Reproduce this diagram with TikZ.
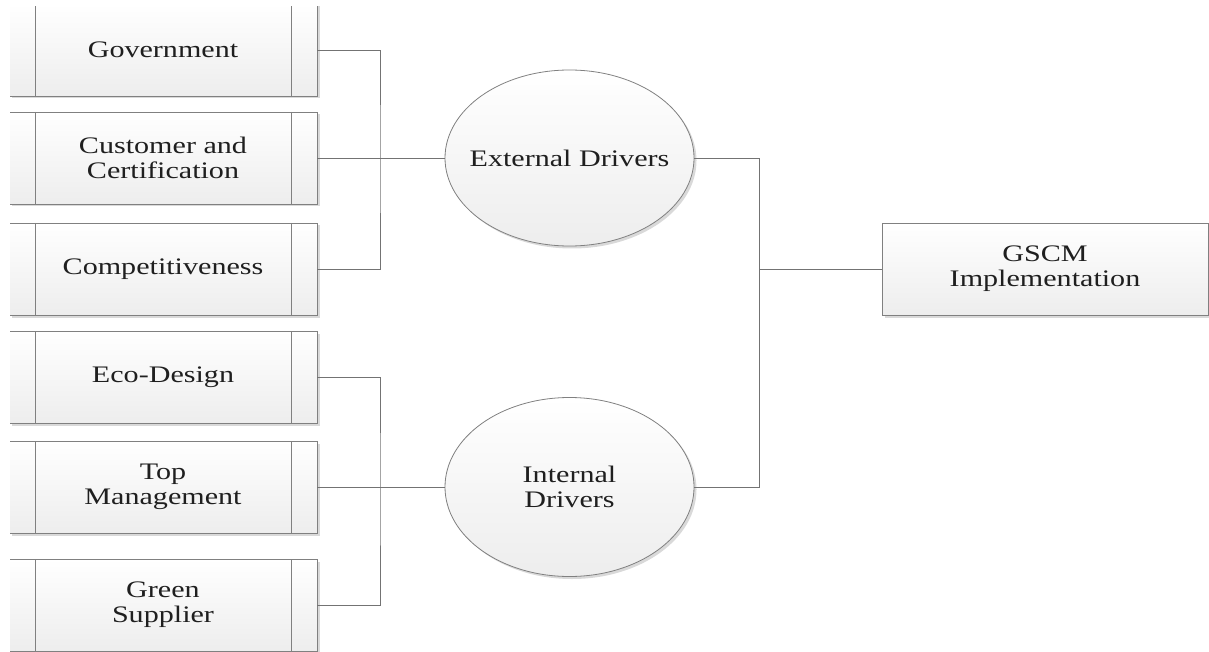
\documentclass[tikz,border=0pt]{standalone}
\usepackage{fontspec}
\setmainfont{Liberation Serif}[FakeStretch=1.27]
\usetikzlibrary{shapes.geometric,shadows}
\tikzset{
  fac/.style={draw=gray,line width=0.8pt,top color=white,bottom color=gray!14,
    minimum width=308pt,minimum height=92pt,inner sep=0pt,align=center,
    drop shadow={shadow xshift=2.5pt,shadow yshift=-2.5pt,opacity=.3},
    path picture={\draw[gray,line width=0.8pt]
      ([xshift=26pt]path picture bounding box.north west) -- ([xshift=26pt]path picture bounding box.south west)
      ([xshift=-26pt]path picture bounding box.north east) -- ([xshift=-26pt]path picture bounding box.south east);}},
  drv/.style={ellipse,draw=gray,line width=0.8pt,top color=white,bottom color=gray!14,
    minimum width=249pt,inner sep=0pt,align=center,
    drop shadow={shadow xshift=2.5pt,shadow yshift=-2.5pt,opacity=.3}},
  goal/.style={draw=gray,line width=0.8pt,top color=white,bottom color=gray!14,
    minimum width=326pt,minimum height=92pt,inner sep=0pt,align=center,
    drop shadow={shadow xshift=2.5pt,shadow yshift=-2.5pt,opacity=.3}},
  link/.style={draw=black!55,line width=0.8pt}
}
\begin{document}
\begin{tikzpicture}[x=1pt,y=-1pt,font=\fontsize{23.7}{25}\selectfont,text=black!88]
\useasboundingbox (0,0) rectangle (1209,652);
\begin{scope}
\clip (10,7) rectangle (1209,652);
% left: the six factors
\node[fac] (gov) at (163,50) {Government};
\node[fac] (cust) at (163,158) {Customer and\\Certification};
\node[fac] (comp) at (163,269) {Competitiveness};
\node[fac] (eco) at (163,377) {Eco-Design};
\node[fac] (top) at (163,487) {Top\\Management};
\node[fac] (green) at (163,605) {Green\\Supplier};
% middle: the two kinds of drivers
\node[drv,minimum height=176pt,inner xsep=-12pt] (ext) at (569.5,158) {External Drivers};
\node[drv,minimum height=179pt] (int) at (569.5,487) {Internal\\Drivers};
% right
\node[goal] (gscm) at (1045,269) {GSCM\\Implementation};
\coordinate (eb) at (380,158);
\coordinate (ib) at (380,487);
\coordinate (rb) at (759,269);
\draw[link] (gov.east) -| (eb) |- (comp.east);
\draw[link] (cust.east) -- (ext.west);
\draw[link] (eco.east) -| (ib) |- (green.east);
\draw[link] (top.east) -- (int.west);
\draw[link] (ext.east) -| (rb) |- (int.east);
\draw[link] (rb) -- (gscm.west);
\end{scope}
\end{tikzpicture}
\end{document}
